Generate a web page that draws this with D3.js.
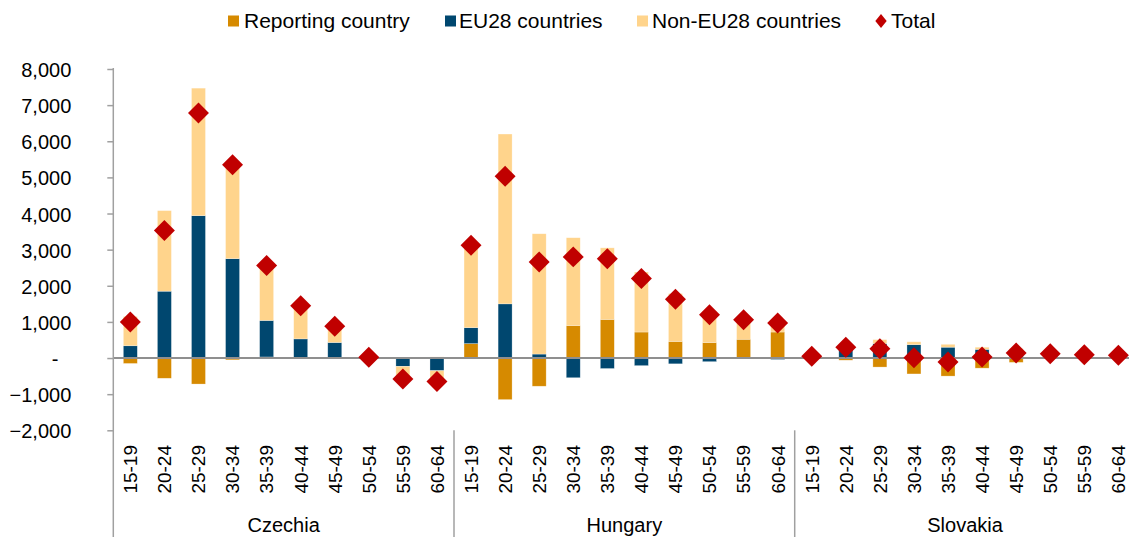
<!DOCTYPE html>
<html>
<head>
<meta charset="utf-8">
<script src="https://cdn.jsdelivr.net/npm/d3@7"></script>
<style>
  html, body { margin: 0; padding: 0; background: #fff; }
  svg { display: block; font-family: "Liberation Sans", Arial, sans-serif; }
</style>
</head>
<body>
<svg id="chart" width="1129" height="537"></svg>
<script>
// ---------- data ----------
const ageGroups = ["15-19","20-24","25-29","30-34","35-39","40-44","45-49","50-54","55-59","60-64"];
const countries = ["Czechia","Hungary","Slovakia"];

const reportingCountry = [
  -150, -560, -720, -50, 30, 0, 0, 0, 0, 30,
  400, -1150, -780, 900, 1070, 720, 460, 430, 520, 720,
  0, -60, -250, -440, -500, -280, -120, 0, 0, 0
];
const eu28Countries = [
  340, 1850, 3940, 2750, 1010, 530, 430, 10, -230, -350,
  440, 1500, 110, -545, -290, -210, -160, -100, 0, -40,
  20, 300, 400, 370, 300, 240, 150, 60, 40, 40
];
const nonEu28Countries = [
  810, 2230, 3530, 2650, 1520, 920, 450, 10, -350, -330,
  2280, 4700, 3330, 2430, 1980, 1660, 1325, 870, 540, 290,
  30, 60, 110, 80, 80, 60, 110, 60, 50, 40
];
const totalValues = [
  1000, 3530, 6780, 5350, 2560, 1450, 880, 20, -580, -650,
  3120, 5030, 2660, 2800, 2750, 2200, 1625, 1200, 1060, 970,
  50, 300, 260, 10, -110, 30, 140, 120, 90, 80
];
const yTicks = [-2000, -1000, 0, 1000, 2000, 3000, 4000, 5000, 6000, 7000, 8000];

const seriesNames = ["Reporting country", "EU28 countries", "Non-EU28 countries"];
const seriesKeys = ["rep", "eu", "non"];
const colors = { rep: "#D68A00", eu: "#00476F", non: "#FFD48C" };
const totalColor = "#C00000";

// ---------- table ----------
const rows = [];
countries.forEach((c, ci) => {
  ageGroups.forEach((a, ai) => {
    const i = ci * ageGroups.length + ai;
    rows.push({ key: c + "|" + a, country: c, age: a,
      rep: reportingCountry[i], eu: eu28Countries[i], non: nonEu28Countries[i], total: totalValues[i] });
  });
});

// ---------- layout ----------
const svg = d3.select("#chart");
const x0 = 113.3, x1 = 1135.4;
const x = d3.scaleBand().domain(rows.map(d => d.key)).range([x0, x1]).paddingInner(0.59).paddingOuter(0.295);
const y = d3.scaleLinear().domain([-2000, 8000]).range([430.3, 69]);
const step = x.step();

const stack = d3.stack().keys(seriesKeys).offset(d3.stackOffsetDiverging);
const stacked = stack(rows);

// bars
const g = svg.append("g");
g.selectAll("g.series").data(stacked).join("g")
  .attr("class", "series")
  .attr("fill", s => colors[s.key])
  .selectAll("rect").data(s => s).join("rect")
  .attr("x", d => x(d.data.key))
  .attr("width", x.bandwidth())
  .attr("y", d => y(Math.max(d[0], d[1])))
  .attr("height", d => Math.abs(y(d[0]) - y(d[1])))
  .attr("stroke", "#ffffff")
  .attr("stroke-opacity", 0.45)
  .attr("stroke-width", 0.6);

// zero line
svg.append("line")
  .attr("x1", x0).attr("x2", 1129)
  .attr("y1", y(0)).attr("y2", y(0))
  .attr("stroke", "#8f8f8f").attr("stroke-width", 2);

// y axis
const yAxis = d3.axisLeft(y).tickValues(yTicks).tickSize(6).tickPadding(36)
  .tickFormat(v => v === 0 ? "-" : d3.format(",")(v));
const ya = svg.append("g").attr("transform", `translate(${x0},0)`).call(yAxis);
ya.select(".domain").remove();
ya.selectAll(".tick line").attr("stroke", "#a0a0a0").attr("stroke-width", 1.5);
ya.selectAll(".tick text")
  .attr("font-size", 20).attr("fill", "#000")
  .attr("font-family", "'Liberation Sans', Arial, sans-serif")
  .attr("dy", "0.38em")
  .attr("dx", v => v === 0 ? -13 : 0);
svg.append("line").attr("x1", x0).attr("x2", x0).attr("y1", y(8000) - 1).attr("y2", 537)
  .attr("stroke", "#a0a0a0").attr("stroke-width", 1.5);

// group dividers
countries.forEach((c, ci) => {
  if (ci === 0) return;
  const xx = x0 + ci * ageGroups.length * step;
  svg.append("line").attr("x1", xx).attr("x2", xx).attr("y1", y(-2000)).attr("y2", 537)
    .attr("stroke", "#a0a0a0").attr("stroke-width", 1.5);
});

// age labels
svg.append("g").selectAll("text").data(rows).join("text")
  .attr("transform", d => `translate(${x(d.key) + x.bandwidth() / 2},445) rotate(-90)`)
  .attr("text-anchor", "end")
  .attr("dy", "0.36em")
  .attr("font-size", 19)
  .attr("fill", "#000")
  .text(d => d.age);

// country labels
svg.append("g").selectAll("text").data(countries).join("text")
  .attr("x", (c, ci) => x0 + (ci + 0.5) * ageGroups.length * step)
  .attr("y", 532)
  .attr("text-anchor", "middle")
  .attr("font-size", 20)
  .attr("fill", "#000")
  .text(c => c);

// total diamonds
const diamond = d3.symbol().type(d3.symbolSquare).size(220);
svg.append("g").selectAll("path").data(rows).join("path")
  .attr("d", diamond)
  .attr("transform", d => `translate(${x(d.key) + x.bandwidth() / 2},${y(d.total)}) rotate(45)`)
  .attr("fill", totalColor);

// legend
const legendItems = [
  { label: seriesNames[0], key: "rep", sx: 228, tx: 244 },
  { label: seriesNames[1], key: "eu", sx: 445, tx: 459 },
  { label: seriesNames[2], key: "non", sx: 637, tx: 652 },
  { label: "Total", key: "total", sx: 875, tx: 891 }
];
const lg = svg.append("g");
legendItems.forEach(it => {
  if (it.key === "total") {
    lg.append("path").attr("d", d3.symbol().type(d3.symbolSquare).size(72))
      .attr("transform", `translate(${it.sx + 6},21) scale(0.95,1.15) rotate(45)`)
      .attr("fill", totalColor);
  } else {
    lg.append("rect").attr("x", it.sx).attr("y", 15.5).attr("width", 11).attr("height", 11)
      .attr("fill", colors[it.key]);
  }
  lg.append("text").attr("x", it.tx).attr("y", 27.5)
    .attr("font-size", 21).attr("fill", "#000").text(it.label);
});
</script>
</body>
</html>
